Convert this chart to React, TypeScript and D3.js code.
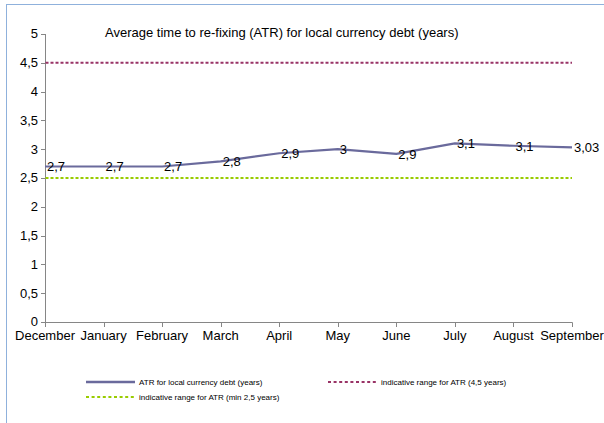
import React from "react";
import * as d3 from "d3";

const months = ["December", "January", "February", "March", "April", "May", "June", "July", "August", "September"];
const atrValues = [2.7, 2.7, 2.7, 2.79, 2.93, 3.0, 2.92, 3.1, 3.06, 3.03];
const atrLabels = ["2,7", "2,7", "2,7", "2,8", "2,9", "3", "2,9", "3,1", "3,1", "3,03"];
const upperRange = 4.5;
const lowerRange = 2.5;
const yTicks = [0, 0.5, 1, 1.5, 2, 2.5, 3, 3.5, 4, 4.5, 5];
const title = "Average time to re-fixing (ATR) for local currency debt (years)";
const legendLabels = [
  "ATR for local currency debt (years)",
  "indicative range for ATR (4,5 years)",
  "indicative range for ATR (min 2,5 years)",
];

const W = 604;
const H = 423;
const FONT = "Arial, 'Liberation Sans', sans-serif";

export default function App() {
  const x = d3.scalePoint<string>().domain(months).range([45, 572]);
  const y = d3.scaleLinear().domain([0, 5]).range([322, 34]);
  const line = d3
    .line<number>()
    .x((_, i) => x(months[i]) as number)
    .y((d) => y(d));
  const fmt = (v: number) => String(v).replace(".", ",");
  const axisColor = "#868686";
  const mainColor = "#6a6a9c";
  const maroon = "#993366";
  const green = "#99cc00";

  return (
    <svg
      width={W}
      height={H}
      style={{ position: "absolute", left: 0, top: 0, background: "#fff" }}
      fontFamily={FONT}
    >
      <rect x={0} y={0} width={W} height={H} fill="#fff" />
      {/* frame */}
      <line x1={6.5} y1={4} x2={6.5} y2={H} stroke="#8fb1dc" strokeWidth={1} />
      <line x1={6} y1={4.5} x2={W} y2={4.5} stroke="#8fb1dc" strokeWidth={1} />

      {/* title */}
      <text x={105} y={37} fontSize={13} fill="#000">
        {title}
      </text>

      {/* y axis */}
      <line x1={45.5} y1={y(5)} x2={45.5} y2={y(0)} stroke={axisColor} />
      {yTicks.map((t) => (
        <g key={t}>
          <line x1={41} x2={45.5} y1={Math.round(y(t)) + 0.5} y2={Math.round(y(t)) + 0.5} stroke={axisColor} />
          <text x={38} y={y(t)} dy="0.34em" textAnchor="end" fontSize={13} fill="#000">
            {fmt(t)}
          </text>
        </g>
      ))}

      {/* x axis */}
      <line x1={45} x2={572.5} y1={322.5} y2={322.5} stroke={axisColor} />
      {months.map((m) => (
        <g key={m}>
          <line
            x1={Math.round(x(m) as number) + 0.5}
            x2={Math.round(x(m) as number) + 0.5}
            y1={322.5}
            y2={327}
            stroke={axisColor}
          />
          <text x={x(m)} y={340} textAnchor="middle" fontSize={13} fill="#000">
            {m}
          </text>
        </g>
      ))}

      {/* reference lines */}
      <line
        x1={45.5}
        x2={572}
        y1={y(upperRange)}
        y2={y(upperRange)}
        stroke={maroon}
        strokeWidth={2}
        strokeDasharray="3,2"
      />
      <line
        x1={45.5}
        x2={572}
        y1={y(lowerRange)}
        y2={y(lowerRange)}
        stroke={green}
        strokeWidth={2}
        strokeDasharray="3,2"
      />

      {/* main series */}
      <path d={line(atrValues) || ""} fill="none" stroke={mainColor} strokeWidth={2.2} strokeLinejoin="round" />
      {atrValues.map((v, i) => (
        <text key={i} x={(x(months[i]) as number) + 2} y={y(v) + 5} fontSize={13} fill="#000">
          {atrLabels[i]}
        </text>
      ))}

      {/* legend */}
      <line x1={86} x2={135} y1={382} y2={382} stroke={mainColor} strokeWidth={2.5} />
      <text x={139} y={385} fontSize={8} fill="#000">
        {legendLabels[0]}
      </text>
      <line x1={328} x2={378} y1={382} y2={382} stroke={maroon} strokeWidth={2} strokeDasharray="3,2.6" />
      <text x={381} y={385} fontSize={8} fill="#000">
        {legendLabels[1]}
      </text>
      <line x1={86} x2={135} y1={397} y2={397} stroke={green} strokeWidth={2} strokeDasharray="3,2.6" />
      <text x={139} y={400} fontSize={8} fill="#000">
        {legendLabels[2]}
      </text>
    </svg>
  );
}
